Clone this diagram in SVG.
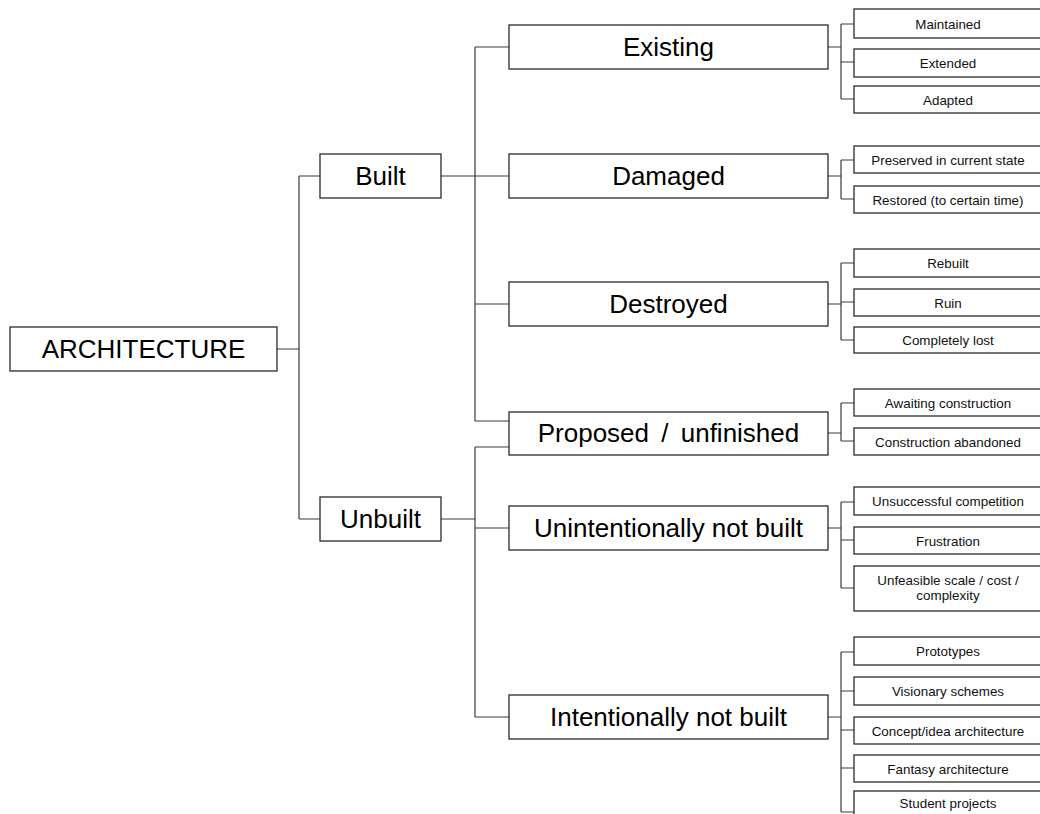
<svg xmlns="http://www.w3.org/2000/svg" width="1040" height="814" viewBox="0 0 1040 814">
<style>
.box{fill:#fff;stroke:#2a2a2a;stroke-width:1.3}
.big{font-family:"Liberation Sans",Arial,sans-serif;font-size:26px;fill:#000;text-anchor:middle}
.small{font-family:"Liberation Sans",Arial,sans-serif;font-size:13.4px;fill:#111;text-anchor:middle}
.conn{fill:none;stroke:#3a3a3a;stroke-width:1.2}
</style>
<rect width="1040" height="814" fill="#fff"/>
<g id="connectors" class="conn">
<path d="M277 349H299M299 176V519M299 176H320M299 519H320"/>
<path d="M441 176H509M475 47V421M475 47H509M475 304H509M475 421H509"/>
<path d="M441 519H475M475 447V717M475 447H509M475 528H509M475 717H509"/>
<path d="M828 47H841M841 24V99M841 24H854M841 62H854M841 99H854"/>
<path d="M828 176H841M841 160V199M841 160H854M841 199H854"/>
<path d="M828 304H841M841 263V340M841 263H854M841 302H854M841 340H854"/>
<path d="M828 433H841M841 403V441M841 403H854M841 441H854"/>
<path d="M828 528H841M841 502V588M841 502H854M841 540H854M841 588H854"/>
<path d="M828 717H841M841 652V812M841 652H854M841 691H854M841 730H854M841 768H854M841 812H854"/>
</g>
<g id="architecture"><rect class="box" x="10" y="327" width="267" height="44"/><text class="big" x="143.5" y="358">ARCHITECTURE</text></g>
<g id="built"><rect class="box" x="320" y="154" width="121" height="44"/><text class="big" x="380.5" y="185">Built</text></g>
<g id="unbuilt"><rect class="box" x="320" y="497" width="121" height="44"/><text class="big" x="380.5" y="528">Unbuilt</text></g>
<g id="existing"><rect class="box" x="509" y="25" width="319" height="44"/><text class="big" x="668.5" y="56">Existing</text></g>
<g id="damaged"><rect class="box" x="509" y="154" width="319" height="44"/><text class="big" x="668.5" y="185">Damaged</text></g>
<g id="destroyed"><rect class="box" x="509" y="282" width="319" height="44"/><text class="big" x="668.5" y="313">Destroyed</text></g>
<g id="proposed"><rect class="box" x="509" y="412" width="319" height="43"/><text class="big" x="668.5" y="442" word-spacing="5">Proposed / unfinished</text></g>
<g id="unintentionally"><rect class="box" x="509" y="506" width="319" height="44"/><text class="big" x="668.5" y="537">Unintentionally not built</text></g>
<g id="intentionally"><rect class="box" x="509" y="695" width="319" height="44"/><text class="big" x="668.5" y="726">Intentionally not built</text></g>
<g id="maintained"><rect class="box" x="854" y="9" width="190" height="29"/><text class="small" x="948" y="28.5">Maintained</text></g>
<g id="extended"><rect class="box" x="854" y="49" width="190" height="28"/><text class="small" x="948" y="68">Extended</text></g>
<g id="adapted"><rect class="box" x="854" y="86" width="190" height="27"/><text class="small" x="948" y="104.5">Adapted</text></g>
<g id="preserved"><rect class="box" x="854" y="146" width="190" height="27"/><text class="small" x="948" y="164.5">Preserved in current state</text></g>
<g id="restored"><rect class="box" x="854" y="186" width="190" height="27"/><text class="small" x="948" y="204.5">Restored (to certain time)</text></g>
<g id="rebuilt"><rect class="box" x="854" y="249" width="190" height="28"/><text class="small" x="948" y="268">Rebuilt</text></g>
<g id="ruin"><rect class="box" x="854" y="289" width="190" height="27"/><text class="small" x="948" y="307.5">Ruin</text></g>
<g id="lost"><rect class="box" x="854" y="327" width="190" height="26"/><text class="small" x="948" y="345">Completely lost</text></g>
<g id="awaiting"><rect class="box" x="854" y="389" width="190" height="27"/><text class="small" x="948" y="407.5">Awaiting construction</text></g>
<g id="abandoned"><rect class="box" x="854" y="428" width="190" height="27"/><text class="small" x="948" y="446.5">Construction abandoned</text></g>
<g id="unsuccessful"><rect class="box" x="854" y="487" width="190" height="28"/><text class="small" x="948" y="506">Unsuccessful competition</text></g>
<g id="frustration"><rect class="box" x="854" y="527" width="190" height="27"/><text class="small" x="948" y="545.5">Frustration</text></g>
<g id="unfeasible"><rect class="box" x="854" y="566" width="190" height="45"/><text class="small" x="948" y="585">Unfeasible scale / cost /</text><text class="small" x="948" y="600">complexity</text></g>
<g id="prototypes"><rect class="box" x="854" y="637" width="190" height="28"/><text class="small" x="948" y="656">Prototypes</text></g>
<g id="visionary"><rect class="box" x="854" y="677" width="190" height="28"/><text class="small" x="948" y="696">Visionary schemes</text></g>
<g id="concept"><rect class="box" x="854" y="717" width="190" height="27"/><text class="small" x="948" y="735.5">Concept/idea architecture</text></g>
<g id="fantasy"><rect class="box" x="854" y="755" width="190" height="27"/><text class="small" x="948" y="773.5">Fantasy architecture</text></g>
<g id="student"><rect class="box" x="854" y="791" width="190" height="30"/><text class="small" x="948" y="808">Student projects</text></g>
</svg>
